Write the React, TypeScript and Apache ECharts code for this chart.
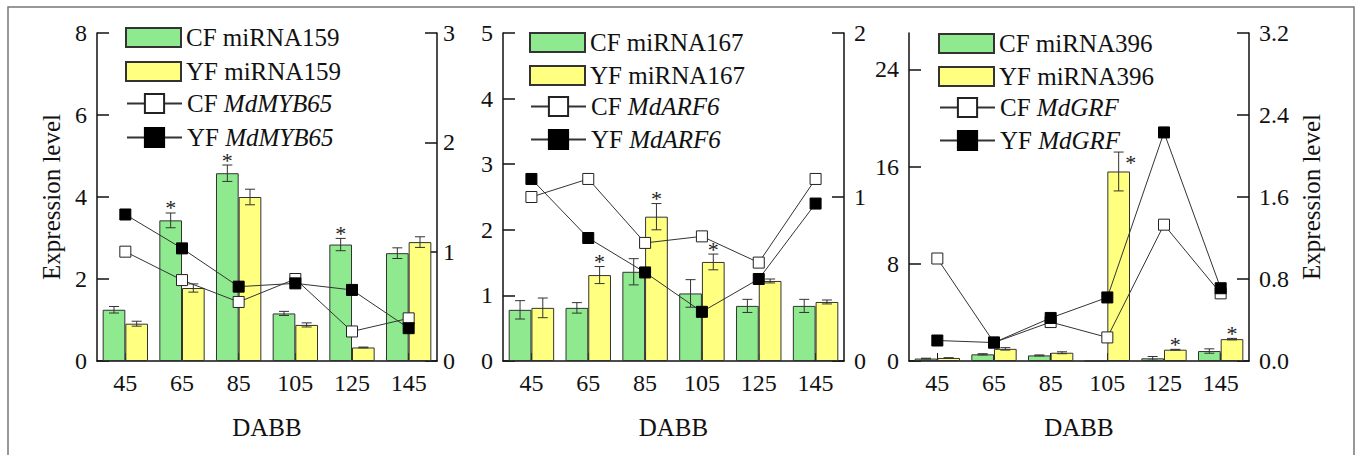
import React, { useEffect, useRef } from 'react';
import * as echarts from 'echarts';

const categories = ['45', '65', '85', '105', '125', '145'];

// Panel 1: miRNA159 / MdMYB65
const p1Names = ['CF miRNA159', 'YF miRNA159', 'CF MdMYB65', 'YF MdMYB65'];
const p1CF = [1.25, 3.43, 4.58, 1.16, 2.84, 2.63];
const p1CFErr = [0.08, 0.18, 0.2, 0.05, 0.15, 0.13];
const p1CFStar = [0, 1, 1, 0, 1, 0];
const p1YF = [0.91, 1.78, 4.0, 0.88, 0.33, 2.9];
const p1YFErr = [0.06, 0.1, 0.19, 0.05, 0.01, 0.13];
const p1YFStar = [0, 0, 0, 0, 0, 0];
const p1CFGene = [1.0, 0.74, 0.54, 0.75, 0.27, 0.39];
const p1YFGene = [1.34, 1.03, 0.68, 0.71, 0.65, 0.3];

// Panel 2: miRNA167 / MdARF6
const p2Names = ['CF miRNA167', 'YF miRNA167', 'CF MdARF6', 'YF MdARF6'];
const p2CF = [0.78, 0.81, 1.36, 1.03, 0.84, 0.84];
const p2CFErr = [0.14, 0.08, 0.2, 0.21, 0.1, 0.1];
const p2CFStar = [0, 0, 0, 0, 0, 0];
const p2YF = [0.81, 1.31, 2.2, 1.51, 1.22, 0.9];
const p2YFErr = [0.15, 0.13, 0.2, 0.12, 0.03, 0.03];
const p2YFStar = [0, 1, 1, 1, 0, 0];
const p2CFGene = [1.0, 1.11, 0.72, 0.76, 0.6, 1.11];
const p2YFGene = [1.11, 0.75, 0.54, 0.3, 0.5, 0.96];

// Panel 3: miRNA396 / MdGRF
const p3Names = ['CF miRNA396', 'YF miRNA396', 'CF MdGRF', 'YF MdGRF'];
const p3CF = [0.2, 0.55, 0.46, 0, 0.22, 0.82];
const p3CFErr = [0.03, 0.05, 0.04, 0, 0.15, 0.18];
const p3CFStar = [0, 0, 0, 0, 0, 0];
const p3YF = [0.25, 1.0, 0.68, 15.6, 0.93, 1.8];
const p3YFErr = [0.02, 0.1, 0.08, 1.6, 0.03, 0.06];
const p3YFStar = [0, 0, 0, 2, 1, 1];
const p3CFGene = [1.0, 0.18, 0.38, 0.23, 1.33, 0.66];
const p3YFGene = [0.2, 0.18, 0.42, 0.62, 2.23, 0.71];

const FONT = 'Liberation Serif';
const GREEN = '#8FEA8F';
const YELLOW = '#FFFF80';
const INK = '#111';

const errRender = (params: any, api: any) => {
  const i = api.value(0);
  const v = api.value(1);
  const e = api.value(2);
  const side = api.value(3);
  const star = api.value(4);
  const band = api.size([1, 0])[0];
  const top = api.coord([i, v + e]);
  const bot = api.coord([i, v - e]);
  const cx = top[0] + side * band * 0.2;
  const children: any[] = [];
  if (e > 0) {
    const st = { stroke: '#333', lineWidth: 1 };
    children.push({ type: 'line', shape: { x1: cx, y1: top[1], x2: cx, y2: bot[1] }, style: st });
    children.push({ type: 'line', shape: { x1: cx - 5, y1: top[1], x2: cx + 5, y2: top[1] }, style: st });
    children.push({ type: 'line', shape: { x1: cx - 5, y1: bot[1], x2: cx + 5, y2: bot[1] }, style: st });
  }
  const starStyle = {
    text: '*', fontSize: 22, lineHeight: 10, fontFamily: FONT, fill: '#222', align: 'center', verticalAlign: 'middle',
  };
  if (star === 1) {
    children.push({ type: 'text', x: cx, y: top[1] - 5, style: starStyle });
  } else if (star === 2) {
    children.push({ type: 'text', x: cx + 12, y: top[1] + 10, style: starStyle });
  }
  return { type: 'group', children };
};

type Panel = {
  names: string[];
  cf: number[]; cfErr: number[]; cfStar: number[];
  yf: number[]; yfErr: number[]; yfStar: number[];
  cfGene: number[]; yfGene: number[];
  left: number; width: number;
  leftMax: number; leftInterval: number; leftTicks?: number[];
  rightMax: number; rightInterval: number; rightDigits: number; rightMargin: number;
  legendTop: number; legendLeft: number; legendStep: number;
  leftName?: boolean; rightName?: boolean;
};

const panels: Panel[] = [
  {
    names: p1Names, cf: p1CF, cfErr: p1CFErr, cfStar: p1CFStar, yf: p1YF, yfErr: p1YFErr, yfStar: p1YFStar,
    cfGene: p1CFGene, yfGene: p1YFGene, left: 97, width: 340,
    leftMax: 8, leftInterval: 2, rightMax: 3, rightInterval: 1, rightDigits: 0, rightMargin: 6,
    legendTop: 37, legendLeft: 125, legendStep: 33, leftName: true,
  },
  {
    names: p2Names, cf: p2CF, cfErr: p2CFErr, cfStar: p2CFStar, yf: p2YF, yfErr: p2YFErr, yfStar: p2YFStar,
    cfGene: p2CFGene, yfGene: p2YFGene, left: 503, width: 341,
    leftMax: 5, leftInterval: 1, rightMax: 2, rightInterval: 1, rightDigits: 0, rightMargin: 10,
    legendTop: 42, legendLeft: 529, legendStep: 32,
  },
  {
    names: p3Names, cf: p3CF, cfErr: p3CFErr, cfStar: p3CFStar, yf: p3YF, yfErr: p3YFErr, yfStar: p3YFStar,
    cfGene: p3CFGene, yfGene: p3YFGene, left: 909, width: 340,
    leftMax: 27, leftInterval: 8, leftTicks: [0, 8, 16, 24], rightMax: 3.2, rightInterval: 0.8, rightDigits: 1, rightMargin: 10,
    legendTop: 43, legendLeft: 938, legendStep: 32, rightName: true,
  },
];

function buildOption() {
  const grid: any[] = [];
  const xAxis: any[] = [];
  const yAxis: any[] = [];
  const series: any[] = [];
  const legend: any[] = [];
  const axisLine = { show: true, lineStyle: { color: INK, width: 1.5 } };
  const labelStyle = { fontFamily: FONT, fontSize: 24, color: INK };

  panels.forEach((p, k) => {
    grid.push({ left: p.left, top: 33, width: p.width, height: 328 });
    xAxis.push({
      type: 'category', gridIndex: k, data: categories,
      axisLine, axisTick: { show: true, inside: true, length: 8, alignWithLabel: true, lineStyle: { color: INK } },
      axisLabel: { ...labelStyle, margin: 10 },
      name: 'DABB', nameLocation: 'middle', nameGap: 54,
      nameTextStyle: { fontFamily: FONT, fontSize: 25, color: INK },
    });
    const leftAxis: any = {
      type: 'value', gridIndex: k, position: 'left', min: 0, max: p.leftMax, interval: p.leftInterval,
      axisLine, splitLine: { show: false },
      axisTick: { show: true, inside: true, length: 12, lineStyle: { color: INK, width: 1.5 } },
      axisLabel: { ...labelStyle, margin: 10 },
    };
    if (p.leftTicks) {
      leftAxis.axisTick.customValues = p.leftTicks;
      leftAxis.axisLabel.customValues = p.leftTicks;
    }
    if (p.leftName) {
      leftAxis.name = 'Expression level';
      leftAxis.nameLocation = 'middle';
      leftAxis.nameRotate = 90;
      leftAxis.nameGap = 33;
      leftAxis.nameTextStyle = { fontFamily: FONT, fontSize: 25, color: INK };
    }
    yAxis.push(leftAxis);
    const rightAxis: any = {
      type: 'value', gridIndex: k, position: 'right', min: 0, max: p.rightMax, interval: p.rightInterval,
      axisLine, splitLine: { show: false },
      axisTick: { show: true, inside: true, length: 12, lineStyle: { color: INK, width: 1.5 } },
      axisLabel: { ...labelStyle, margin: p.rightMargin, formatter: (v: number) => v.toFixed(p.rightDigits) },
    };
    if (p.rightName) {
      rightAxis.name = 'Expression level';
      rightAxis.nameLocation = 'middle';
      rightAxis.nameRotate = 90;
      rightAxis.nameGap = 50;
      rightAxis.nameTextStyle = { fontFamily: FONT, fontSize: 25, color: INK };
    }
    yAxis.push(rightAxis);

    const yL = k * 2;
    const yR = k * 2 + 1;
    const barStyle = (c: string) => ({ color: c, borderColor: '#333', borderWidth: 1 });
    series.push({
      type: 'bar', name: p.names[0], xAxisIndex: k, yAxisIndex: yL, data: p.cf,
      barGap: '0%', barCategoryGap: '20%', itemStyle: barStyle(GREEN), z: 2,
    });
    series.push({
      type: 'bar', name: p.names[1], xAxisIndex: k, yAxisIndex: yL, data: p.yf,
      barGap: '0%', barCategoryGap: '20%', itemStyle: barStyle(YELLOW), z: 2,
    });
    series.push({
      type: 'custom', xAxisIndex: k, yAxisIndex: yL, renderItem: errRender, clip: false, z: 3,
      encode: { x: 0, y: 1 },
      data: p.cf.map((v, i) => [i, v, p.cfErr[i], -1, p.cfStar[i]]),
    });
    series.push({
      type: 'custom', xAxisIndex: k, yAxisIndex: yL, renderItem: errRender, clip: false, z: 3,
      encode: { x: 0, y: 1 },
      data: p.yf.map((v, i) => [i, v, p.yfErr[i], 1, p.yfStar[i]]),
    });
    series.push({
      type: 'line', name: p.names[2], xAxisIndex: k, yAxisIndex: yR, data: p.cfGene,
      symbol: 'rect', symbolSize: 11, showAllSymbol: true,
      lineStyle: { color: '#333', width: 1 },
      itemStyle: { color: '#fff', borderColor: '#222', borderWidth: 1 }, z: 4,
    });
    series.push({
      type: 'line', name: p.names[3], xAxisIndex: k, yAxisIndex: yR, data: p.yfGene,
      symbol: 'rect', symbolSize: 11, showAllSymbol: true,
      lineStyle: { color: '#333', width: 1 },
      itemStyle: { color: '#000', borderColor: '#000', borderWidth: 1 }, z: 5,
    });

    const gap = p.legendStep - 24;
    legend.push({
      data: [p.names[0], p.names[1]], orient: 'vertical', left: p.legendLeft, top: p.legendTop - 12,
      icon: 'rect', itemWidth: 55, itemHeight: 19, itemGap: gap, padding: 0,
      textStyle: { fontFamily: FONT, fontSize: 25, lineHeight: 24, color: INK }, selectedMode: false,
    });
    legend.push({
      data: [p.names[2], p.names[3]], orient: 'vertical', left: p.legendLeft + 1, top: p.legendTop + 2 * p.legendStep - 12,
      itemWidth: 55, itemHeight: 24, itemGap: gap, padding: 0, selectedMode: false,
      formatter: (name: string) => {
        const j = name.indexOf(' ');
        return name.slice(0, j + 1) + '{i|' + name.slice(j + 1) + '}';
      },
      textStyle: {
        fontFamily: FONT, fontSize: 25, lineHeight: 24, color: INK,
        rich: { i: { fontFamily: FONT, fontSize: 25, lineHeight: 24, fontStyle: 'italic', color: INK } },
      },
    });
  });

  return {
    animation: false,
    backgroundColor: '#fff',
    textStyle: { fontFamily: FONT },
    grid, xAxis, yAxis, series, legend,
    graphic: [
      {
        type: 'rect', silent: true, z: 100,
        shape: { x: 8, y: 7, width: 1346, height: 470 },
        style: { fill: 'none', stroke: '#777', lineWidth: 1.5 },
      },
    ],
  };
}

export default function App() {
  const ref = useRef<HTMLDivElement>(null);
  useEffect(() => {
    if (!ref.current) return;
    const chart = echarts.init(ref.current, null, { renderer: 'svg' });
    chart.setOption(buildOption() as any);
    return () => chart.dispose();
  }, []);
  return (
    <div
      ref={ref}
      style={{ position: 'fixed', left: 0, top: 0, width: 1357, height: 455, background: '#fff' }}
    />
  );
}
